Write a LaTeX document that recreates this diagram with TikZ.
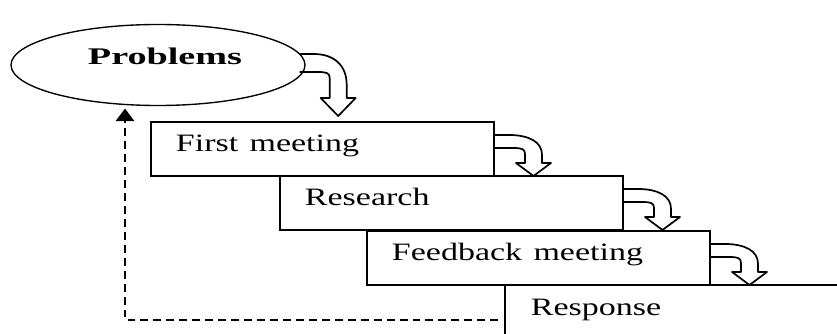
\documentclass[tikz,border=0pt]{standalone}
\usepackage{fontspec}
\setmainfont{Liberation Serif}
\usepackage{graphicx}
\usetikzlibrary{shapes.geometric}
\usetikzlibrary{arrows.meta}
\def\upx{0.44pt}
\newcommand{\wide}[1]{\scalebox{1.36}[1]{#1}}
\newcommand{\wideb}[1]{\scalebox{1.6}[1]{\bfseries #1}}
\tikzset{stage/.style = {draw, line width=0.8pt, rectangle, anchor=north west,
                         minimum height=23.8pt, inner xsep=11pt, inner ysep=0pt,
                         text width=129pt, align=left, text height=0.7em, text depth=0.5em,
                         font=\fontsize{11}{13}\selectfont}}
\tikzset{bubble/.style = {draw, ellipse, line width=0.6pt, inner sep=0,
                          minimum width=294*\upx, minimum height=81*\upx}}
\tikzset{back/.style = {line width=1pt, dash pattern=on 3.5pt off 2.2pt,
                        -{Triangle[width=8pt,length=5.5pt]}}}
\tikzset{pics/bent arrow/.style args={#1/#2/#3}{code={
  \draw[line width=0.75pt, line join=round] (0,0) -- (14,0) .. controls (34,0) and (47,#2*0.25) .. (47,#2*0.7)
    -- (47,#2) -- (56,#2) -- (38.5,#2+#3) -- (21,#2) -- (30,#2) -- (30,#1+6)
    .. controls (30,#1+1) and (27,#1) .. (18,#1) -- (0,#1);
}}}

\begin{document}
\begin{tikzpicture}[x=\upx, y=-\upx]
  \useasboundingbox (0,0) rectangle (837,334);

  \node [bubble] (prob) at (158,65) {};
  \node [anchor=base, font=\fontsize{10.5}{12}\selectfont] (probtxt) at ([xshift=7*\upx]prob.center) {\wideb{Problems}};

  \node [stage] (meet) at (150,121) {\wide{First meeting}};
  \node [stage] (res) at (279,175) {\wide{Research}};
  \node [stage] (fb) at (366,230) {\wide{Feedback meeting}};
  \node [stage, draw=none] (resp) at (505,285) {\wide{Response}};
  \draw [line width=0.8pt] (resp.north east) -- (resp.north west) -- (resp.south west);

  \pic at ([xshift=-6*\upx, yshift=11*\upx]prob.east) {bent arrow=18/44/18};
  \pic at ([yshift=-14*\upx]meet.north east) {bent arrow=13/28/13};
  \pic at ([yshift=-14*\upx]res.north east) {bent arrow=13/28/13};
  \pic at ([yshift=-14*\upx]fb.north east) {bent arrow=13/28/13};

  \coordinate (ret) at (125,320);
  \draw [back, shorten <=3pt, shorten >=1.5pt] (resp.west |- ret) -- (ret) -- (ret |- prob.230);
\end{tikzpicture}
\end{document}
